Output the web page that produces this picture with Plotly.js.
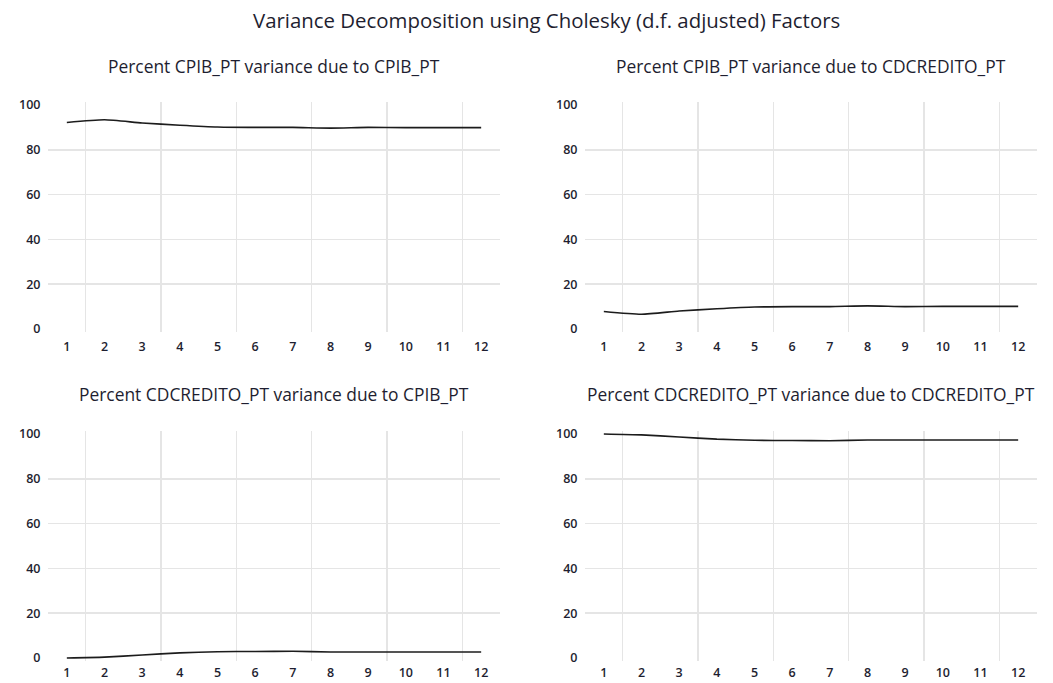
<!DOCTYPE html>
<html>
<head>
<meta charset="utf-8">
<script src="https://cdn.plot.ly/plotly-3.0.1.min.js"></script>
<style>
  html, body { margin: 0; padding: 0; background: #ffffff; }
  #chart { width: 1053px; height: 683px; }
</style>
</head>
<body>
<div id="chart"></div>
<script>
// ---- Data ----
const periods = [1, 2, 3, 4, 5, 6, 7, 8, 9, 10, 11, 12];
const yTicks = [0, 20, 40, 60, 80, 100];

const mainTitle = "Variance Decomposition using Cholesky (d.f. adjusted) Factors";
const panelTitles = [
  "Percent CPIB_PT variance due to CPIB_PT",
  "Percent CPIB_PT variance due to CDCREDITO_PT",
  "Percent CDCREDITO_PT variance due to CPIB_PT",
  "Percent CDCREDITO_PT variance due to CDCREDITO_PT"
];

const cpibDueCpib            = [92.2, 93.4, 92.0, 91.0, 90.2, 90.0, 90.0, 89.7, 90.0, 89.9, 89.9, 89.9];
const cpibDueCdcredito       = [7.8, 6.6, 8.0, 9.0, 9.8, 10.0, 10.0, 10.3, 10.0, 10.1, 10.1, 10.1];
const cdcreditoDueCpib       = [0.0, 0.4, 1.3, 2.3, 2.8, 2.9, 3.0, 2.7, 2.7, 2.7, 2.7, 2.7];
const cdcreditoDueCdcredito  = [100.0, 99.6, 98.7, 97.7, 97.2, 97.1, 97.0, 97.3, 97.3, 97.3, 97.3, 97.3];

const seriesList = [cpibDueCpib, cpibDueCdcredito, cdcreditoDueCpib, cdcreditoDueCdcredito];

// ---- Styling / layout ----
const W = 1053, H = 683;
const FONT = "'Open Sans', Lato, sans-serif";
const TEXT = "#1e1e30";
const GRID = "#e5e5e5";

const xDomains = [[48 / W, 500 / W], [585 / W, 1037 / W]];
const yDomains = [[(H - 332) / H, (H - 102) / H], [(H - 661) / H, (H - 431) / H]];
const titleY = [(H - 66) / H, (H - 394) / H];
const xTickLen = [3, 0];

const xGridVals = periods.filter(p => p % 2 === 1).map(p => p + 0.5);
const yGridVals = yTicks.filter(v => v > 0 && v < 100);

const traces = [];
const layout = {
  width: W, height: H,
  margin: {l: 0, r: 0, t: 0, b: 0},
  paper_bgcolor: "#ffffff",
  plot_bgcolor: "#ffffff",
  showlegend: false,
  font: {family: FONT, color: TEXT},
  annotations: [{
    text: mainTitle, xref: "paper", yref: "paper",
    x: 546 / W, y: (H - 20) / H, xanchor: "center", yanchor: "middle",
    showarrow: false, font: {family: FONT, size: 20.4, color: TEXT}
  }]
};

seriesList.forEach((vals, i) => {
  const row = Math.floor(i / 2), col = i % 2;
  const idx = i + 1;
  const sfx = idx === 1 ? "" : String(idx);
  traces.push({
    type: "scatter", mode: "lines",
    x: periods, y: vals,
    xaxis: "x" + sfx, yaxis: "y" + sfx,
    line: {color: "#1c1c1c", width: 1.6, shape: "spline", smoothing: 0.6},
    hoverinfo: "x+y"
  });
  layout["xaxis" + sfx] = {
    domain: xDomains[col],
    anchor: "y" + sfx,
    range: [0.5, 12.5],
    tickvals: periods, ticktext: periods.map(String),
    showgrid: false, zeroline: false, showline: false,
    ticks: "outside", ticklen: xTickLen[row], tickcolor: "rgba(0,0,0,0)",
    tickfont: {family: FONT, size: 12.5, color: TEXT, weight: 600},
    minor: {tickvals: xGridVals, showgrid: true, gridcolor: GRID, gridwidth: 1.5, ticks: ""},
    fixedrange: true
  };
  layout["yaxis" + sfx] = {
    domain: yDomains[row],
    anchor: "x" + sfx,
    range: [-1.35, 101.35],
    tickvals: yTicks, ticktext: yTicks.map(String),
    showgrid: false, zeroline: false, showline: false,
    ticks: "outside", ticklen: 4, tickcolor: "rgba(0,0,0,0)",
    tickfont: {family: FONT, size: 12.5, color: TEXT, weight: 600},
    minor: {tickvals: yGridVals, showgrid: true, gridcolor: GRID, gridwidth: 1.5, ticks: ""},
    fixedrange: true
  };
  layout.annotations.push({
    text: panelTitles[i], xref: "paper", yref: "paper",
    x: (xDomains[col][0] + xDomains[col][1]) / 2, y: titleY[row],
    xanchor: "center", yanchor: "middle", showarrow: false,
    font: {family: FONT, size: 17.4, color: TEXT}
  });
});

Plotly.newPlot("chart", traces, layout, {displayModeBar: false, staticPlot: true});
</script>
</body>
</html>
